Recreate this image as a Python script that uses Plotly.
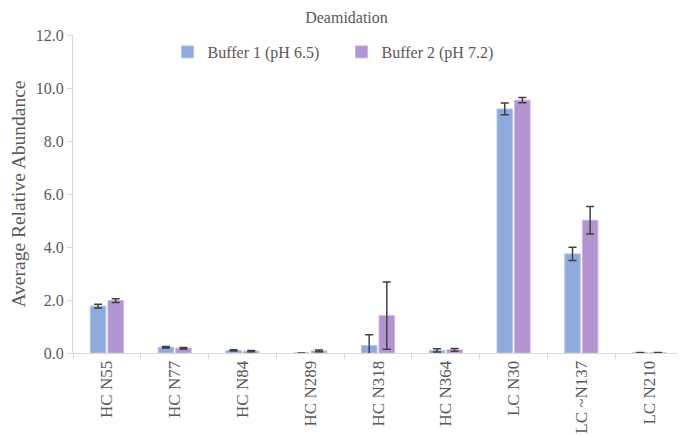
import plotly.graph_objects as go

categories = ["HC N55", "HC N77", "HC N84", "HC N289", "HC N318", "HC N364", "LC N30", "LC ~N137", "LC N210"]
buffer1 = [1.77, 0.22, 0.10, 0.0, 0.28, 0.10, 9.21, 3.74, 0.01]
buffer1_err = [0.07, 0.03, 0.02, 0.0, 0.41, 0.06, 0.22, 0.25, 0.01]
buffer2 = [1.98, 0.18, 0.07, 0.08, 1.41, 0.12, 9.54, 5.01, 0.01]
buffer2_err = [0.07, 0.03, 0.02, 0.03, 1.27, 0.05, 0.10, 0.52, 0.01]
y_ticks = [0, 2, 4, 6, 8, 10, 12]

font = "Liberation Serif"
txt = "#595959"
err_color = "#404040"

fig = go.Figure()
fig.add_trace(go.Bar(
    x=categories, y=buffer1, name="Buffer 1 (pH 6.5)",
    marker=dict(color="#8EA9DB", line=dict(color="#B4C7EA", width=1)),
    error_y=dict(type="data", array=buffer1_err, color=err_color, thickness=1.5, width=4),
))
fig.add_trace(go.Bar(
    x=categories, y=buffer2, name="Buffer 2 (pH 7.2)",
    marker=dict(color="#B294D0", line=dict(color="#CDB5E2", width=1)),
    error_y=dict(type="data", array=buffer2_err, color=err_color, thickness=1.5, width=4),
))

# page body has an 8px margin; figure sized/margined to land plot area where the reference has it
fig.update_layout(
    width=677, height=428,
    margin=dict(l=65, r=2, t=27, b=83),
    paper_bgcolor="white", plot_bgcolor="white",
    barmode="group", bargap=0.48, bargroupgap=0.12,
    font=dict(family=font, size=16, color=txt),
    title=dict(text="Deamidation", x=0.5, xanchor="center", y=0.99, yanchor="top",
               font=dict(family=font, size=16, color=txt)),
    legend=dict(orientation="h", x=0.155, xanchor="left", y=1.0, yanchor="top",
                font=dict(family=font, size=16, color=txt),
                itemwidth=30, entrywidth=129, entrywidthmode="pixels",
                bgcolor="rgba(0,0,0,0)"),
    xaxis=dict(tickangle=-90, showline=True, linecolor="#D9D9D9", linewidth=1,
               ticks="outside", tickcolor="#D9D9D9", ticklen=5,
               tickson="boundaries", showgrid=False, automargin=False,
               tickfont=dict(family=font, size=17, color=txt)),
    yaxis=dict(range=[0, 12], tickvals=y_ticks, tickformat=".1f",
               showline=True, linecolor="#D9D9D9", linewidth=1,
               ticks="outside", tickcolor="#D9D9D9", ticklen=5,
               showgrid=False, zeroline=False, automargin=False,
               title=dict(text="Average Relative Abundance", font=dict(family=font, size=19.5, color=txt), standoff=12),
               tickfont=dict(family=font, size=16, color=txt)),
)

fig.write_html("out.html")
